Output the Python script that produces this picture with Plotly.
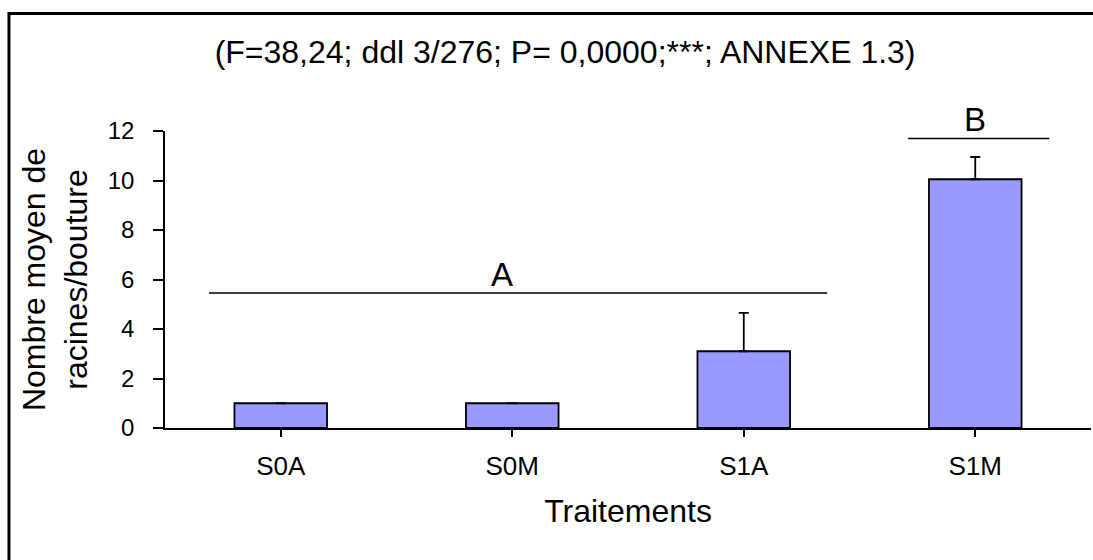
import plotly.graph_objects as go

# Mean number of roots per cutting for each treatment
traitements = ["S0A", "S0M", "S1A", "S1M"]
moyennes = [1.0, 1.0, 3.1, 10.05]
erreurs = [0.0, 0.0, 1.55, 0.9]

# Homogeneous groups (letter, level of the bracket line, span in category units)
groupes = ["A", "B"]
groupes_niveau = [5.45, 11.7]
groupes_debut = [-0.31, 2.71]
groupes_fin = [2.36, 3.32]
groupes_lettre_x = [0.956, 3.0]

titre = "(F=38,24; ddl 3/276; P= 0,0000;***; ANNEXE 1.3)"
police = "Liberation Sans, Arial, sans-serif"

fig = go.Figure()
fig.add_trace(go.Bar(
    x=list(range(len(traitements))),
    y=moyennes,
    width=0.4,
    marker=dict(color="#9999FF", line=dict(color="black", width=1.8)),
    error_y=dict(type="data", array=erreurs, arrayminus=[0] * len(erreurs),
                 symmetric=False, color="black", thickness=1.8, width=5),
    showlegend=False,
))

for lettre, niv, x0, x1, xl in zip(groupes, groupes_niveau, groupes_debut,
                                   groupes_fin, groupes_lettre_x):
    fig.add_shape(type="line", xref="x", yref="y", x0=x0, x1=x1, y0=niv, y1=niv,
                  line=dict(color="black", width=1.5))
    fig.add_annotation(x=xl, y=niv, xref="x", yref="y", text=lettre,
                       showarrow=False, yanchor="bottom", yshift=-2,
                       font=dict(size=33, color="black", family=police))

# Frame around the whole chart
fig.add_shape(type="rect", xref="paper", yref="paper",
              x0=-0.1685, x1=1.2, y0=-0.8, y1=1.3955,
              line=dict(color="black", width=3), layer="above")

fig.update_layout(
    width=1093, height=560,
    margin=dict(l=165, r=2, t=131, b=132),
    paper_bgcolor="white", plot_bgcolor="white",
    font=dict(family=police, color="black"),
    title=dict(text=titre, x=0.517, xanchor="center", y=0.907, yanchor="middle",
               font=dict(size=32, color="black", family=police)),
    bargap=0.6,
)

fig.update_xaxes(
    range=[-0.5, 3.5],
    tickmode="array", tickvals=list(range(len(traitements))), ticktext=traitements,
    tickson="boundaries", ticks="outside", ticklen=7, tickwidth=1.5, tickcolor="black",
    showline=True, linecolor="black", linewidth=1.5,
    showgrid=False, zeroline=False,
    tickfont=dict(size=26, color="black"),
    ticklabelstandoff=7,
    title=dict(text="Traitements", font=dict(size=32, color="black"), standoff=20),
)

fig.update_yaxes(
    range=[0, 12], dtick=2, tick0=0,
    ticks="outside", ticklen=10, tickwidth=1.5, tickcolor="black",
    showline=True, linecolor="black", linewidth=1.5,
    showgrid=False, zeroline=False,
    tickfont=dict(size=24, color="black"),
    ticklabelstandoff=14,
    title=dict(text="Nombre moyen de<br>racines/bouture",
               font=dict(size=32, color="black"), standoff=11),
)

fig.write_html("out.html")
